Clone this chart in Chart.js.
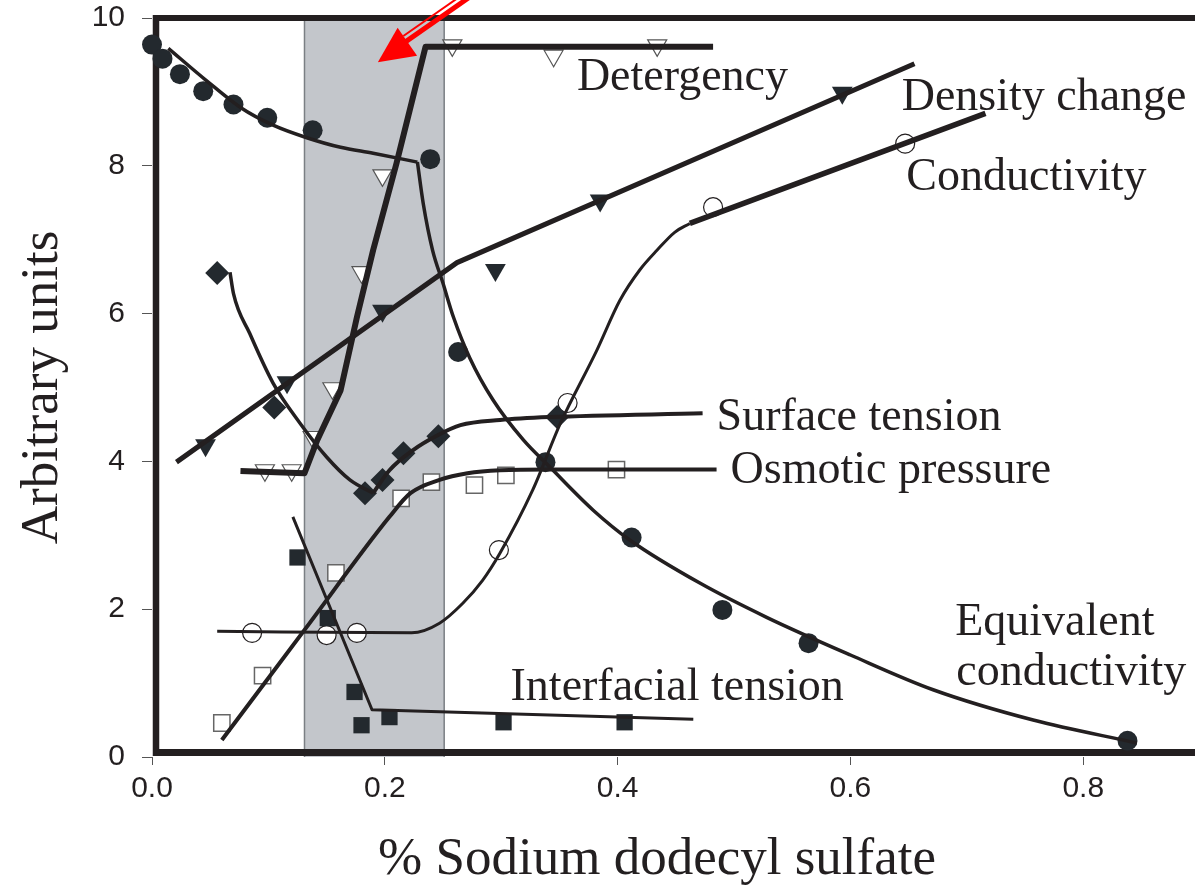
<!DOCTYPE html>
<html><head><meta charset="utf-8">
<style>html,body{margin:0;padding:0;background:#fff;overflow:hidden}#wrap{width:1195px;height:888px;position:relative}</style>
<script src="https://cdn.jsdelivr.net/npm/chart.js@4.4.0/dist/chart.umd.min.js"></script>
</head><body><div id="wrap"><canvas id="c" width="1195" height="888"></canvas></div>
<script>
// ---------- data ----------
const xTicks = [0.0, 0.2, 0.4, 0.6, 0.8];
const yTicks = [0, 2, 4, 6, 8, 10];

// Equivalent conductivity (filled circles)
const eqCondX = [0.000, 0.009, 0.024, 0.044, 0.070, 0.099, 0.138, 0.239, 0.263, 0.338, 0.412, 0.490, 0.564, 0.838];
const eqCondY = [9.64, 9.45, 9.24, 9.01, 8.83, 8.65, 8.48, 8.09, 5.48, 3.99, 2.97, 1.99, 1.54, 0.22];
const eqCondLine1X = [0.014, 0.047, 0.076, 0.104, 0.133, 0.162, 0.190, 0.228];
const eqCondLine1Y = [9.59, 9.15, 8.79, 8.55, 8.38, 8.25, 8.17, 8.05];
const eqCondLine2X = [0.228, 0.233, 0.241, 0.250, 0.259, 0.273, 0.293, 0.319, 0.342, 0.379, 0.411, 0.471, 0.528, 0.600, 0.671, 0.757, 0.846];
const eqCondLine2Y = [8.05, 7.49, 6.86, 6.41, 5.95, 5.40, 4.83, 4.29, 3.92, 3.34, 2.93, 2.35, 1.89, 1.38, 0.91, 0.50, 0.19];

// Detergency (open down triangles)
const detX = [0.097, 0.120, 0.138, 0.155, 0.180, 0.198, 0.258, 0.345, 0.434];
const detY = [3.88, 3.88, 4.33, 4.99, 6.56, 7.87, 9.63, 9.49, 9.63];
const detLineX = [0.076, 0.131, 0.142, 0.162, 0.176, 0.190, 0.210, 0.235, 0.482];
const detLineY = [3.87, 3.84, 4.29, 4.96, 5.95, 6.86, 8.03, 9.61, 9.61];

// Density change (filled down triangles)
const densX = [0.046, 0.116, 0.198, 0.295, 0.385, 0.593];
const densY = [4.22, 5.07, 6.04, 6.59, 7.53, 8.99];
const densLineX = [0.021, 0.262, 0.655];
const densLineY = [3.99, 6.69, 9.38];

// Conductivity (open circles)
const condX = [0.086, 0.150, 0.176, 0.298, 0.357, 0.482, 0.647];
const condY = [1.68, 1.65, 1.68, 2.80, 4.79, 7.44, 8.30];
const condLine1X = [0.056, 0.223, 0.247, 0.267, 0.284, 0.299, 0.327, 0.351, 0.382, 0.402, 0.419, 0.434, 0.449, 0.462];
const condLine1Y = [1.70, 1.68, 1.81, 2.08, 2.39, 2.76, 3.61, 4.52, 5.50, 6.18, 6.59, 6.86, 7.10, 7.22];
const condLine2X = [0.462, 0.716];
const condLine2Y = [7.22, 8.71];

// Surface tension (filled diamonds)
const surfX = [0.056, 0.105, 0.183, 0.198, 0.216, 0.246, 0.348];
const surfY = [6.55, 4.73, 3.57, 3.75, 4.11, 4.34, 4.60];
const surfLine1X = [0.067, 0.070, 0.084, 0.104, 0.127, 0.150, 0.170, 0.190];
const surfLine1Y = [6.56, 6.27, 5.73, 5.06, 4.52, 4.06, 3.75, 3.57];
const surfLine2X = [0.190, 0.204, 0.224, 0.245, 0.265, 0.299, 0.342, 0.473];
const surfLine2Y = [3.57, 3.88, 4.15, 4.35, 4.49, 4.56, 4.60, 4.65];

// Osmotic pressure (open squares)
const osmX = [0.060, 0.095, 0.158, 0.214, 0.240, 0.277, 0.304, 0.399];
const osmY = [0.46, 1.10, 2.49, 3.50, 3.72, 3.68, 3.81, 3.89];
const osmLineX = [0.060, 0.132, 0.204, 0.222, 0.247, 0.271, 0.299, 0.342, 0.485];
const osmLineY = [0.23, 1.74, 3.25, 3.57, 3.75, 3.84, 3.88, 3.89, 3.89];

// Interfacial tension (filled squares)
const ifX = [0.125, 0.151, 0.174, 0.180, 0.204, 0.302, 0.406];
const ifY = [2.70, 1.88, 0.88, 0.43, 0.54, 0.47, 0.47];
const ifLineX = [0.121, 0.189, 0.465];
const ifLineY = [3.25, 0.64, 0.51];

// CMC shaded band
const bandRange = [0.131, 0.251];

// ---------- styling / layout ----------
const INK = '#231f20';
const DOT = '#23292e';
const pts = (xs, ys) => xs.map((x, i) => ({x, y: ys[i]}));

const labels = [
  {text: 'Detergency', x: 0.365, y: 9.02},
  {text: 'Density change', x: 0.644, y: 8.75},
  {text: 'Conductivity', x: 0.648, y: 7.67},
  {text: 'Surface tension', x: 0.485, y: 4.42},
  {text: 'Osmotic pressure', x: 0.497, y: 3.71},
  {text: 'Interfacial tension', x: 0.308, y: 0.77},
  {text: 'Equivalent', x: 0.690, y: 1.65},
  {text: 'conductivity', x: 0.691, y: 0.97}
];
const arrow = {tip: {x: 0.194, y: 9.40}, tail: {x: 0.285, y: 10.40}};

function markerDS(data, style, opts) {
  return Object.assign({type: 'scatter', data, pointStyle: style, order: 2, clip: false, showLine: false}, opts);
}
function lineDS(data, width, tension) {
  return {type: 'line', data, borderColor: INK, borderWidth: width, pointRadius: 0, fill: false,
    cubicInterpolationMode: tension ? 'monotone' : 'default', tension: 0, order: 1, clip: false,
    borderJoinStyle: 'round', borderCapStyle: 'butt'};
}

const bgPlugin = {
  id: 'bg',
  beforeDatasetsDraw(chart) {
    const {ctx, chartArea: a, scales: {x, y}} = chart;
    const W = chart.width;
    ctx.save();
    const x0 = x.getPixelForValue(bandRange[0]), x1 = x.getPixelForValue(bandRange[1]);
    ctx.fillStyle = '#c3c6cb';
    ctx.fillRect(x0, a.top, x1 - x0, a.bottom - a.top);
    ctx.strokeStyle = '#7b7f84';
    ctx.lineWidth = 1.5;
    ctx.beginPath();
    ctx.moveTo(x0, a.top); ctx.lineTo(x0, a.bottom);
    ctx.moveTo(x1, a.top); ctx.lineTo(x1, a.bottom);
    ctx.stroke();
    // thick frame
    ctx.strokeStyle = INK;
    ctx.lineWidth = 6.5;
    ctx.beginPath();
    ctx.moveTo(a.left + 4, a.top - 3); ctx.lineTo(a.left + 4, a.bottom - 1);
    ctx.stroke();
    ctx.lineWidth = 6;
    ctx.beginPath();
    ctx.moveTo(a.left + 1, a.top); ctx.lineTo(W, a.top);
    ctx.stroke();
    ctx.lineWidth = 7;
    ctx.beginPath();
    ctx.moveTo(a.left + 1, a.bottom - 4.5); ctx.lineTo(W, a.bottom - 4.5);
    ctx.stroke();
    ctx.restore();
  },
  afterDraw(chart) {
    const {ctx, scales: {x, y}} = chart;
    ctx.save();
    ctx.fillStyle = INK;
    ctx.font = '46px "Liberation Serif", "Times New Roman", serif';
    ctx.textBaseline = 'alphabetic';
    ctx.textAlign = 'left';
    labels.forEach(l => ctx.fillText(l.text, x.getPixelForValue(l.x), y.getPixelForValue(l.y)));
    // axis titles
    ctx.font = '53px "Liberation Serif", "Times New Roman", serif';
    ctx.textAlign = 'center';
    ctx.fillText('% Sodium dodecyl sulfate', 657, 874);
    ctx.save();
    ctx.translate(57, (chart.chartArea.top + chart.chartArea.bottom) / 2);
    ctx.rotate(-Math.PI / 2);
    ctx.fillText('Arbitrary units', 0, 0);
    ctx.restore();
    // red arrow
    const tx = x.getPixelForValue(arrow.tip.x), ty = y.getPixelForValue(arrow.tip.y);
    const ex = x.getPixelForValue(arrow.tail.x), ey = y.getPixelForValue(arrow.tail.y);
    const len = Math.hypot(ex - tx, ey - ty);
    const ux = (ex - tx) / len, uy = (ey - ty) / len;
    const nx = -uy, ny = ux;
    const hl = 36, hw = 17;
    const bx = tx + ux * hl, by = ty + uy * hl;
    ctx.fillStyle = '#ff0000';
    ctx.strokeStyle = '#ff0000';
    ctx.beginPath();
    ctx.moveTo(tx, ty);
    ctx.lineTo(bx + nx * hw, by + ny * hw);
    ctx.lineTo(bx - nx * hw, by - ny * hw);
    ctx.closePath();
    ctx.fill();
    ctx.lineCap = 'butt';
    ctx.lineWidth = 5;
    ctx.beginPath();
    ctx.moveTo(bx - ux * 6 - nx * 1, by - uy * 6 - ny * 1);
    ctx.lineTo(ex - nx * 1, ey - ny * 1);
    ctx.stroke();
    ctx.lineWidth = 2;
    ctx.beginPath();
    ctx.moveTo(bx - nx * 7, by - ny * 7);
    ctx.lineTo(ex - nx * 7, ey - ny * 7);
    ctx.stroke();
    ctx.restore();
  }
};

const tickFont = {family: '"Liberation Sans Narrow", "Arial Narrow", "Liberation Sans", Arial, sans-serif', size: 30, lineHeight: 1.0};
function noPad(s) { s.paddingTop = 0; s.paddingBottom = 0; s.paddingLeft = 0; s.paddingRight = 0; }

new Chart(document.getElementById('c'), {
  type: 'scatter',
  data: {
    datasets: [
      markerDS(pts(eqCondX, eqCondY), 'circle', {pointRadius: 10, backgroundColor: DOT, borderColor: DOT, borderWidth: 0}),
      markerDS(pts(densX, densY), 'triangle', {pointRadius: 12, rotation: 180, backgroundColor: DOT, borderColor: DOT, borderWidth: 0}),
      markerDS(pts(surfX, surfY), 'rectRot', {pointRadius: 12, backgroundColor: DOT, borderColor: DOT, borderWidth: 0}),
      markerDS(pts(ifX, ifY), 'rect', {pointRadius: 11.5, backgroundColor: DOT, borderColor: DOT, borderWidth: 0}),
      markerDS(pts(detX, detY), 'triangle', {pointRadius: 11, rotation: 180, backgroundColor: '#ffffff', borderColor: '#555555', borderWidth: 1.2}),
      markerDS(pts(condX, condY), 'circle', {pointRadius: 9.5, backgroundColor: '#ffffff', borderColor: INK, borderWidth: 1.2}),
      markerDS(pts(osmX, osmY), 'rect', {pointRadius: 11.5, backgroundColor: '#ffffff', borderColor: '#666666', borderWidth: 1.5}),
      lineDS(pts(eqCondLine1X, eqCondLine1Y), 3.5, true),
      lineDS(pts(eqCondLine2X, eqCondLine2Y), 3.5, true),
      lineDS(pts(detLineX, detLineY), 6, false),
      lineDS(pts(densLineX, densLineY), 5, false),
      lineDS(pts(condLine1X, condLine1Y), 3, true),
      lineDS(pts(condLine2X, condLine2Y), 5.5, false),
      lineDS(pts(surfLine1X, surfLine1Y), 3.5, true),
      lineDS(pts(surfLine2X, surfLine2Y), 4, true),
      lineDS(pts(osmLineX, osmLineY), 4, true),
      lineDS(pts(ifLineX, ifLineY), 3, false)
    ]
  },
  options: {
    responsive: false,
    devicePixelRatio: 1,
    animation: false,
    events: [],
    layout: {autoPadding: false, padding: {top: 18, right: 0, bottom: 0, left: 0}},
    plugins: {legend: {display: false}, tooltip: {enabled: false}},
    scales: {
      x: {
        type: 'linear', min: 0, max: 0.896,
        afterFit(s) { s.height = 131; noPad(s); },
        afterBuildTicks(s) { s.ticks = xTicks.map(v => ({value: v})); },
        ticks: {includeBounds: false, padding: 9, color: INK, font: tickFont, maxRotation: 0,
          callback: v => v.toFixed(1)},
        grid: {drawOnChartArea: false, drawTicks: true, tickLength: 8, tickColor: '#555555', lineWidth: 1},
        border: {display: false}
      },
      y: {
        type: 'linear', min: 0, max: 10,
        afterFit(s) { s.width = 152; noPad(s); },
        afterBuildTicks(s) { s.ticks = yTicks.map(v => ({value: v})); },
        ticks: {padding: 17, color: INK, font: tickFont, callback: v => String(v)},
        grid: {drawOnChartArea: false, drawTicks: true, tickLength: 10, tickColor: '#555555', lineWidth: 1},
        border: {display: false}
      }
    }
  },
  plugins: [bgPlugin]
});
</script></body></html>
